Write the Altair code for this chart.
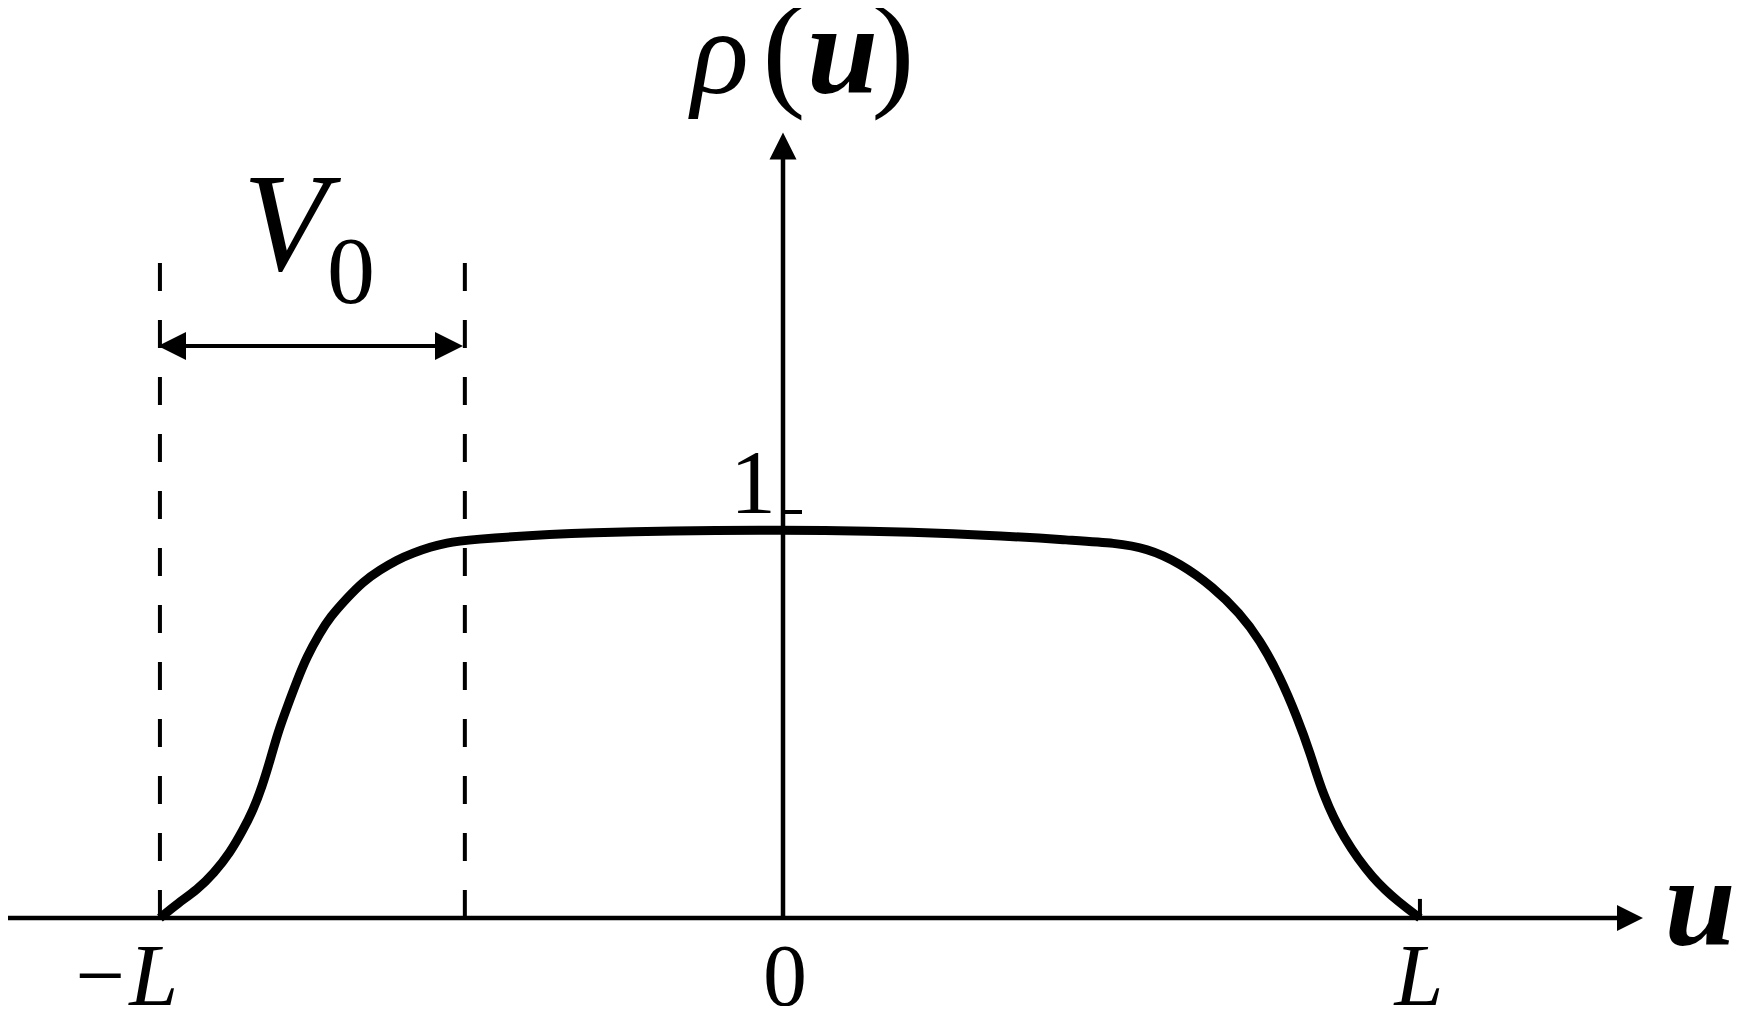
import altair as alt
import pandas as pd

# ---- data (u in units of L, rho normalised so that the tick "1" is at 1) ----
curve_u = [-0.989, -0.960, -0.930, -0.903, -0.878, -0.857, -0.841, -0.827, -0.814,
           -0.802, -0.787, -0.771, -0.756, -0.735, -0.719, -0.692, -0.667, -0.640,
           -0.613, -0.587, -0.560, -0.533, -0.508, -0.322, 0.000, 0.286, 0.471,
           0.524, 0.578, 0.630, 0.683, 0.725, 0.757, 0.789, 0.816, 0.837, 0.857,
           0.889, 0.937, 0.979, 1.011]
curve_rho = [0.000, 0.037, 0.069, 0.111, 0.160, 0.217, 0.266, 0.323, 0.389,
             0.456, 0.520, 0.586, 0.643, 0.702, 0.741, 0.788, 0.828, 0.857,
             0.882, 0.899, 0.914, 0.924, 0.931, 0.951, 0.958, 0.948, 0.929,
             0.924, 0.911, 0.874, 0.815, 0.751, 0.685, 0.594, 0.495, 0.406, 0.303,
             0.197, 0.094, 0.037, 0.000]

u_minus_L = -0.989
u_plus_L = 1.011
u_v0 = -0.505
rho_one = 1.0
rho_dash_top = 1.613
rho_v0_arrow = 1.409

label_text = ["1", "\u2212L", "0", "L", "u", "\u03c1", "(", "u", ")", "V", "0"]
label_u = [-0.0476, -1.046, 0.003, 1.0095, 1.4556, -0.100, 0.0016, 0.0945, 0.1746, -0.790, -0.6857]
label_rho = [0.9975, -0.2143, -0.2143, -0.2143, -0.0665, 2.032, 2.032, 2.032, 2.032, 1.596, 1.5148]
label_size = [92, 88, 88, 88, 128, 120, 130, 128, 130, 139, 96]
label_style = ["normal", "italic", "normal", "italic", "italic", "italic", "normal", "italic",
               "normal", "italic", "normal"]
label_weight = ["normal", "normal", "normal", "normal", "bold", "normal", "normal", "bold",
                "normal", "normal", "normal"]

FONT = "Times New Roman, Liberation Serif, serif"

# ---- scales ----
xs = alt.Scale(domain=[-775 / 630, 949 / 630], nice=False, zero=False)
ys = alt.Scale(domain=[-88 / 406, 910 / 406], nice=False, zero=False)


def X(f="u"):
    return alt.X(f"{f}:Q", scale=xs, axis=None)


def Y(f="rho"):
    return alt.Y(f"{f}:Q", scale=ys, axis=None)


layers = []

# horizontal axis line
hax = pd.DataFrame({"u": [-775 / 630], "u2": [1.33], "rho": [0.0]})
layers.append(alt.Chart(hax).mark_rule(color="black", strokeWidth=4.5).encode(
    x=X(), x2="u2:Q", y=Y()))
# vertical axis line
vax = pd.DataFrame({"u": [0.0], "rho": [0.0], "rho2": [1.88]})
layers.append(alt.Chart(vax).mark_rule(color="black", strokeWidth=4.5).encode(
    x=X(), y=Y(), y2="rho2:Q"))

# ticks
tk1 = pd.DataFrame({"u": [0.0], "u2": [0.0302], "rho": [rho_one]})
layers.append(alt.Chart(tk1).mark_rule(color="black", strokeWidth=4).encode(
    x=X(), x2="u2:Q", y=Y()))
tkL = pd.DataFrame({"u": [u_plus_L], "rho": [0.0], "rho2": [0.047]})
layers.append(alt.Chart(tkL).mark_rule(color="black", strokeWidth=4).encode(
    x=X(), y=Y(), y2="rho2:Q"))

# dashed guides
dash = pd.DataFrame({"u": [u_minus_L, u_v0], "rho": [rho_dash_top] * 2, "rho2": [0.0] * 2})
layers.append(alt.Chart(dash).mark_rule(color="black", strokeWidth=4, strokeDash=[28, 29]).encode(
    x=X(), y=Y(), y2="rho2:Q"))

# V0 double arrow shaft
shaft = pd.DataFrame({"u": [-0.973], "u2": [-0.529], "rho": [rho_v0_arrow]})
layers.append(alt.Chart(shaft).mark_rule(color="black", strokeWidth=4).encode(
    x=X(), x2="u2:Q", y=Y()))

# arrow heads
heads = [
    (1.3444, 0.0, "M-1,-1L1,0L-1,1Z", 676),
    (0.0, 1.9015, "M-1,1L0,-1L1,1Z", 729),
    (-0.9698, rho_v0_arrow, "M1,-1L-1,0L1,1Z", 784),
    (-0.5302, rho_v0_arrow, "M-1,-1L1,0L-1,1Z", 784),
]
for hu, hr, shape, sz in heads:
    d = pd.DataFrame({"u": [hu], "rho": [hr]})
    layers.append(alt.Chart(d).mark_point(shape=shape, size=sz, filled=True, color="black",
                                          opacity=1, strokeWidth=0).encode(x=X(), y=Y()))

# density curve
curve = pd.DataFrame({"u": curve_u, "rho": curve_rho})
layers.append(alt.Chart(curve).mark_line(color="black", strokeWidth=9, interpolate="basis",
                                         strokeJoin="round").encode(x=X(), y=Y()))

# labels
for t, lu, lr, ls, st, wt in zip(label_text, label_u, label_rho, label_size, label_style, label_weight):
    d = pd.DataFrame({"u": [lu], "rho": [lr], "t": [t]})
    layers.append(alt.Chart(d).mark_text(font=FONT, fontSize=ls, fontStyle=st,
                                         fontWeight=wt, align="center", baseline="alphabetic",
                                         color="black").encode(x=X(), y=Y(), text="t:N"))

chart = alt.layer(*layers).properties(
    width=1724, height=998, padding=0,
    autosize=alt.AutoSizeParams(type="none"),
    background="white",
).configure_view(stroke=None)

chart.save("out.html", embed_options={"renderer": "svg", "actions": False})
